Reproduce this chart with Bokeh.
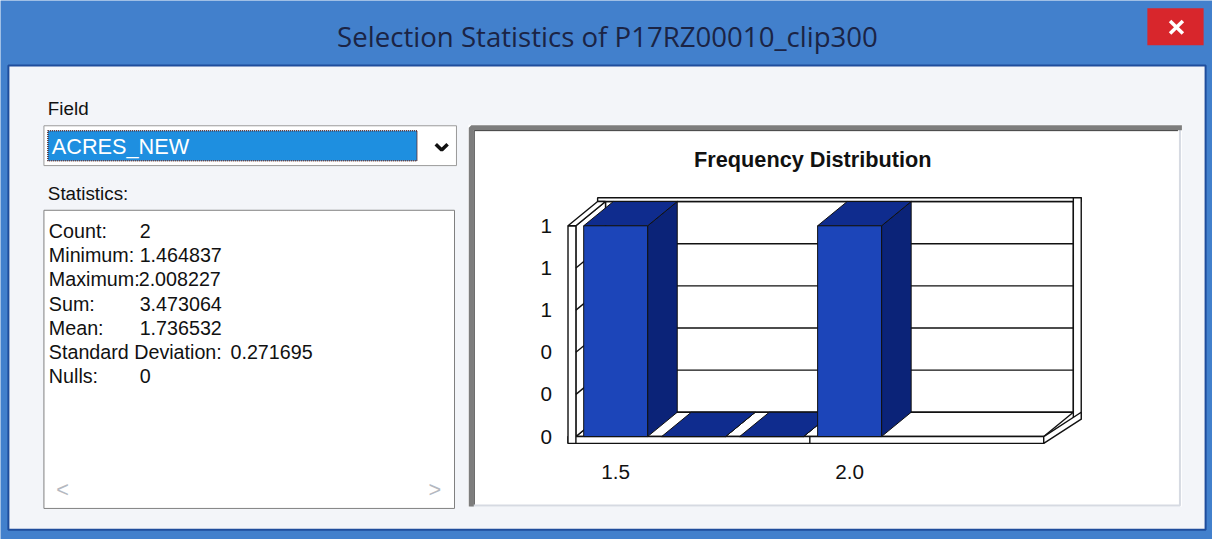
from bokeh.plotting import figure
from bokeh.models import Range1d
from bokeh.core.properties import value
from bokeh.embed import file_html
from bokeh.resources import INLINE

# ---------------- data ----------------
window_title = "Selection Statistics of P17RZ00010_clip300"
field_label = "Field"
field_value = "ACRES_NEW"
stats_label = "Statistics:"
stat_names = ["Count:", "Minimum:", "Maximum:", "Sum:", "Mean:", "Standard Deviation:", "Nulls:"]
stat_values = ["2", "1.464837", "2.008227", "3.473064", "1.736532", "0.271695", "0"]
chart_title = "Frequency Distribution"
bin_counts = [1, 0, 0, 1]          # frequency per bin
x_slots = 6                        # bins shown along the x axis
x_tick_bins = [0, 3]
x_tick_labels = ["1.5", "2.0"]
y_ticks = [0.0, 0.2, 0.4, 0.6, 0.8, 1.0]
y_tick_labels = ["0", "0", "0", "1", "1", "1"]

# ---------------- figure ----------------
W, H = 1212, 539
RW, RH = 1228, 555              # reference canvas the layout is designed on
S = W / RW


def fs(px):
    return f"{px * S:.1f}px"


BLUE = "#4280cc"
p = figure(width=W, height=H, x_range=Range1d(0, RW), y_range=Range1d(RH, 0),
           output_backend="svg", toolbar_location=None, min_border=0,
           x_axis_type=None, y_axis_type=None)
p.grid.visible = False
p.outline_line_color = None
p.background_fill_color = BLUE
p.border_fill_color = BLUE

# chart data ranges (3-D histogram area)
PX0, UX = 583.0, 79.0      # reference pixel of x=0, pixels per bin
PY0, UY = 449.0, 217.0     # reference pixel of y=0, pixels per count
p.extra_x_ranges = {"cx": Range1d((0 - PX0) / UX, (RW - PX0) / UX)}
p.extra_y_ranges = {"cy": Range1d(-(RH - PY0) / UY, PY0 / UY)}
C = dict(x_range_name="cx", y_range_name="cy")

SANS = value("Liberation Sans")

# ---------------- window chrome ----------------
p.quad(left=[8], right=[1221], top=[67], bottom=[545], fill_color="#f3f5f9",
       line_color="#1f4d9c", line_width=2)
p.quad(left=[1162], right=[1219], top=[8], bottom=[46], fill_color="#d8262c", line_color=None)
p.multi_line(xs=[[1185, 1198], [1185, 1198]], ys=[[21, 34], [34, 21]], line_color="white", line_width=3.5)
p.text(x=[615], y=[37], text=[window_title], text_font=value("Open Sans"), text_font_size=fs(28),
       text_color="#1b2445", text_align="center", text_baseline="middle")

# ---------------- left panel ----------------
p.text(x=[48], y=[111], text=[field_label], text_font=SANS, text_font_size=fs(19),
       text_color="#111111", text_align="left", text_baseline="middle")
p.quad(left=[44], right=[462], top=[129], bottom=[170], fill_color="white", line_color="#9a9a9a")
p.quad(left=[48], right=[422], top=[134], bottom=[165], fill_color="#1e8fe0",
       line_color="#5a2a2a", line_dash="1 1", line_width=1.5)
p.text(x=[52], y=[150], text=[field_value], text_font=SANS, text_font_size=fs(22),
       text_color="white", text_align="left", text_baseline="middle")
p.line(x=[441, 447, 453], y=[148, 154, 148], line_color="#111111", line_width=3.5)
p.text(x=[48], y=[199], text=[stats_label], text_font=SANS, text_font_size=fs(19),
       text_color="#111111", text_align="left", text_baseline="middle")
p.quad(left=[44], right=[460], top=[216], bottom=[523], fill_color="white", line_color="#808080")
row_y = [237 + 25 * i for i in range(len(stat_names))]
val_x = [141, 141, 140, 141, 141, 233, 141]
p.text(x=[49] * len(stat_names), y=row_y, text=stat_names, text_font=SANS, text_font_size=fs(20),
       text_color="#111111", text_align="left", text_baseline="middle")
p.text(x=val_x, y=row_y, text=stat_values, text_font=SANS, text_font_size=fs(20),
       text_color="#111111", text_align="left", text_baseline="middle")
p.text(x=[63, 440], y=[504, 504], text=["<", ">"], text_font=SANS, text_font_size=fs(22),
       text_color="#b4b8c0", text_align="center", text_baseline="middle")

# ---------------- right panel frame ----------------
p.quad(left=[474], right=[1197], top=[128], bottom=[521], fill_color="white", line_color=None)
p.line(x=[1195, 1195, 476], y=[130, 520, 520], line_color="#d6dae2", line_width=2)
p.line(x=[477, 477, 1197], y=[521, 131, 131], line_color="#7d7d7d", line_width=5)
p.line(x=[480, 480, 1193], y=[519, 134, 134], line_color="#3a3a3a", line_width=1)
p.text(x=[823], y=[164], text=[chart_title], text_font=SANS, text_font_style="bold",
       text_font_size=fs(22), text_color="#111111", text_align="center", text_baseline="middle")

# ---------------- 3-D histogram ----------------
dx, dy = 30 / UX, 25 / UY     # depth offset
tw, th = 8 / UX, 7 / UY       # wall / floor thickness
top_v = max(y_ticks)
LC, LW = "#111111", 1.4

# back wall
p.quad(left=[dx], right=[x_slots + dx], bottom=[dy], top=[top_v + dy], fill_color="white",
       line_color=LC, line_width=LW, **C)
p.quad(left=[dx - tw], right=[x_slots + dx + tw], bottom=[top_v + dy], top=[top_v + dy + 0.018],
       fill_color="white", line_color=LC, line_width=LW, **C)
p.quad(left=[x_slots + dx], right=[x_slots + dx + tw], bottom=[dy - th], top=[top_v + dy + 0.018],
       fill_color="white", line_color=LC, line_width=LW, **C)
grid_v = y_ticks[1:-1]
p.multi_line(xs=[[dx, x_slots + dx] for _ in grid_v], ys=[[v + dy, v + dy] for v in grid_v],
             line_color=LC, line_width=LW, **C)

# floor
p.patch(x=[0, x_slots, x_slots + dx, dx], y=[0, 0, dy, dy], fill_color="white",
        line_color=LC, line_width=LW, **C)
p.quad(left=[-tw], right=[x_slots], bottom=[-th], top=[0], fill_color="white",
       line_color=LC, line_width=LW, **C)
p.patch(x=[x_slots, x_slots, x_slots + dx + tw, x_slots + dx + tw], y=[-th, 0, dy, dy - th],
        fill_color="white", line_color=LC, line_width=LW, **C)
p.segment(x0=[x_tick_bins[1]], y0=[-th], x1=[x_tick_bins[1]], y1=[0], line_color=LC, line_width=LW, **C)

# left wall
p.patch(x=[0, 0, dx, dx], y=[0, top_v, top_v + dy, dy], fill_color="white",
        line_color=LC, line_width=LW, **C)
p.quad(left=[-tw], right=[0], bottom=[-th], top=[top_v], fill_color="white",
       line_color=LC, line_width=LW, **C)
p.patch(x=[-tw, 0, dx, dx - tw], y=[top_v, top_v, top_v + dy, top_v + dy], fill_color="white",
        line_color=LC, line_width=LW, **C)
p.multi_line(xs=[[0, dx] for _ in grid_v], ys=[[v, v + dy] for v in grid_v],
             line_color=LC, line_width=LW, **C)

# bars
gap, bw = 0.1, 0.82
FRONT, TOP, SIDE = "#1c45b9", "#0f2c8e", "#0b2378"
side_xs, side_ys, top_xs, top_ys, fl, fr, ft = [], [], [], [], [], [], []
for i, c in enumerate(bin_counts):
    x0 = i + gap
    x1 = x0 + bw
    side_xs.append([x1, x1, x1 + dx, x1 + dx])
    side_ys.append([0, c, c + dy, dy])
    top_xs.append([x0, x1, x1 + dx, x0 + dx])
    top_ys.append([c, c, c + dy, c + dy])
    fl.append(x0); fr.append(x1); ft.append(c)
p.patches(xs=side_xs, ys=side_ys, fill_color=SIDE, line_color=LC, line_width=1, **C)
p.patches(xs=top_xs, ys=top_ys, fill_color=TOP, line_color=LC, line_width=1, **C)
p.quad(left=fl, right=fr, bottom=[0] * len(fl), top=ft, fill_color=FRONT, line_color=LC,
       line_width=1, **C)

# axis labels
p.text(x=[-30 / UX] * len(y_ticks), y=y_ticks, text=y_tick_labels, text_font=SANS,
       text_font_size=fs(21), text_color="#111111", text_align="center", text_baseline="middle", **C)
p.text(x=[b + gap + bw / 2 for b in x_tick_bins], y=[-36 / UY] * len(x_tick_bins), text=x_tick_labels,
       text_font=SANS, text_font_size=fs(21), text_color="#111111", text_align="center",
       text_baseline="middle", **C)

open("out.html", "w").write(file_html(p, INLINE))
